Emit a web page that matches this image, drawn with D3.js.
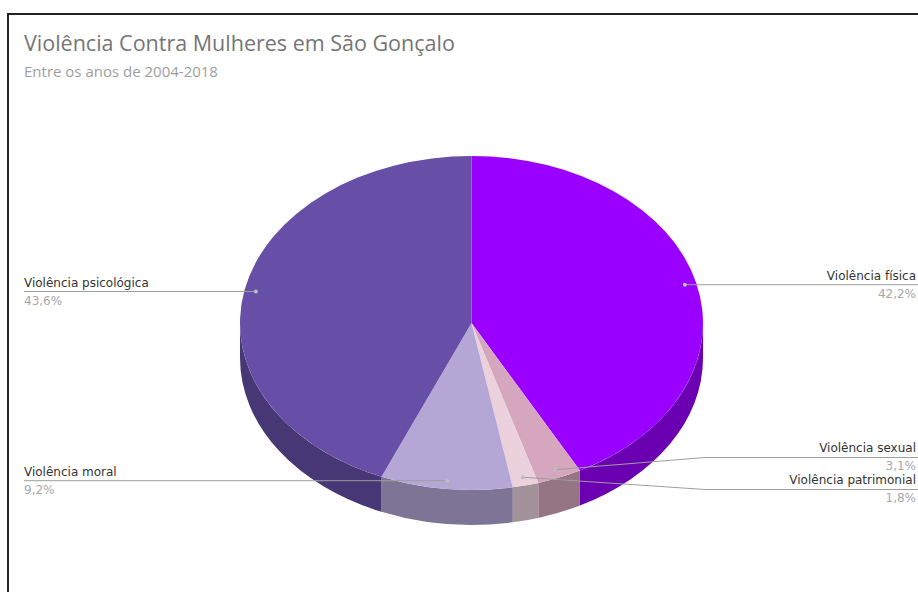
<!DOCTYPE html>
<html>
<head>
<meta charset="utf-8">
<script src="https://cdn.jsdelivr.net/npm/d3@7"></script>
<style>
  html, body { margin: 0; padding: 0; background: #fff; }
  svg { display: block; }
  .title { font-family: "Open Sans", sans-serif; }
  .lbl { font-family: "DejaVu Sans", sans-serif; }
</style>
</head>
<body>
<div id="chart-container" style="width:918px;height:592px"></div>
<script>
// data (percent of cases, clockwise from 12 o'clock)
let categories = ["Violência física", "Violência sexual", "Violência patrimonial", "Violência moral", "Violência psicológica"],
    values = [42.2, 3.1, 1.8, 9.2, 43.6],
    valueLabels = ["42,2%", "3,1%", "1,8%", "9,2%", "43,6%"],
    colors = ["#9900ff", "#d5a6bd", "#ead1dc", "#b4a7d6", "#674ea7"];

let titleText = "Violência Contra Mulheres em São Gonçalo",
    subtitleText = "Entre os anos de 2004-2018";

let W = 918, H = 592,
    svg = d3.select("#chart-container").append("svg").attr("width", W).attr("height", H),
    cx = 471.5, cy = 323, rx = 231.5, ry = 167, depth = 35,
    dotR = 0.95, labelGap = 32,
    leftX = 24, rightX = 916, bendX = 705;

// frame
svg.append("rect")
    .attr("x", 8).attr("y", 14)
    .attr("width", W).attr("height", H)
    .attr("fill", "none").attr("stroke", "#222").attr("stroke-width", 2);

svg.append("text").attr("class", "title")
    .attr("x", 24).attr("y", 51)
    .attr("font-size", 21.5).attr("fill", "#757575")
    .text(titleText);

svg.append("text").attr("class", "title")
    .attr("x", 24).attr("y", 77)
    .attr("font-size", 15).attr("fill", "#9e9e9e")
    .text(subtitleText);

let data = categories.map((c, i) => ({ name: c, value: values[i], label: valueLabels[i], color: colors[i] }));

let arcs = d3.pie().sort(null).value(d => d.value).startAngle(0).endAngle(2 * Math.PI)(data);

// point on the tilted disc, angle clockwise from top
function pt(a, f, dy) {
    return [cx + rx * f * Math.sin(a), cy - ry * f * Math.cos(a) + (dy || 0)];
}

function topPath(d) {
    let p0 = pt(d.startAngle, 1), p1 = pt(d.endAngle, 1),
        large = d.endAngle - d.startAngle > Math.PI ? 1 : 0;
    return `M${cx},${cy}L${p0}A${rx},${ry} 0 ${large} 1 ${p1}Z`;
}

function sidePath(d) {
    let s0 = Math.max(d.startAngle, Math.PI / 2),
        s1 = Math.min(d.endAngle, Math.PI * 1.5);
    if (s0 >= s1) return null;
    let a = pt(s0, 1), b = pt(s1, 1), c = pt(s1, 1, depth), e = pt(s0, 1, depth);
    return `M${a}A${rx},${ry} 0 0 1 ${b}L${c}A${rx},${ry} 0 0 0 ${e}Z`;
}

let g = svg.append("g");

g.selectAll("path.side")
    .data(arcs.filter(d => sidePath(d)))
    .enter().append("path")
    .attr("class", "side")
    .attr("d", sidePath)
    .attr("fill", d => d3.rgb(d.data.color).darker(1).toString());

g.selectAll("path.top")
    .data(arcs)
    .enter().append("path")
    .attr("class", "top")
    .attr("d", topPath)
    .attr("fill", d => d.data.color);

// label layout: dot at slice middle, push overlapping labels apart per side
let labels = arcs.map(d => {
    let mid = (d.startAngle + d.endAngle) / 2, dot = pt(mid, dotR);
    return { d: d, dot: dot, right: mid < Math.PI, y: dot[1] };
});

["left", "right"].forEach(side => {
    let list = labels.filter(l => (side === "right") === l.right).sort((a, b) => a.y - b.y);
    for (let k = 0; k < 20; k++) {
        for (let i = 1; i < list.length; i++) {
            let gap = list[i].y - list[i - 1].y;
            if (gap < labelGap) {
                let push = (labelGap - gap) / 2;
                list[i].y += push;
                list[i - 1].y -= push;
            }
        }
    }
});

let lg = svg.append("g");

labels.forEach(l => {
    let pts = l.right
        ? (Math.abs(l.y - l.dot[1]) > 0.5 ? [l.dot, [bendX, l.y], [W, l.y]] : [l.dot, [W, l.y]])
        : (Math.abs(l.y - l.dot[1]) > 0.5 ? [l.dot, [W - bendX, l.y], [leftX, l.y]] : [l.dot, [leftX, l.y]]);

    lg.append("path")
        .attr("d", d3.line()(pts))
        .attr("fill", "none")
        .attr("stroke", "#9e9e9e")
        .attr("stroke-width", 1);

    lg.append("circle")
        .attr("cx", l.dot[0]).attr("cy", l.dot[1]).attr("r", 2)
        .attr("fill", "#bdbdbd");

    let x = l.right ? rightX : leftX, anchor = l.right ? "end" : "start";

    lg.append("text").attr("class", "lbl")
        .attr("x", x).attr("y", l.y - 5)
        .attr("text-anchor", anchor)
        .attr("font-size", 12).attr("fill", "#333")
        .text(l.d.data.name);

    lg.append("text").attr("class", "lbl")
        .attr("x", x).attr("y", l.y + 13)
        .attr("text-anchor", anchor)
        .attr("font-size", 12).attr("fill", "#a8a8a8")
        .text(l.d.data.label);
});
</script>
</body>
</html>
